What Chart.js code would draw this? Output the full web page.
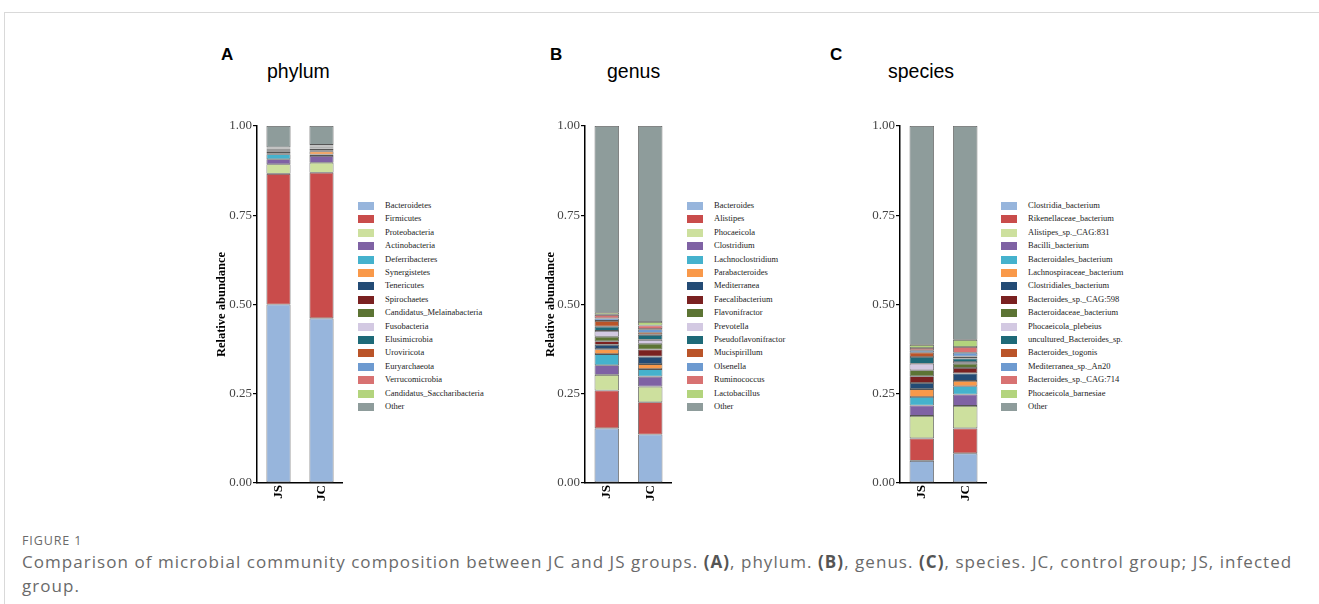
<!DOCTYPE html>
<html>
<head>
<meta charset="utf-8">
<script src="https://cdn.jsdelivr.net/npm/chart.js@4"></script>
<style>
    body { margin: 0; background: #fff; width: 1319px; height: 604px; position: relative; overflow: hidden; }
    .frame { position: absolute; left: 4px; top: 12px; right: 0; bottom: 0; border-top: 1px solid #d9d9d9; border-left: 1px solid #d9d9d9; }
    .letter { position: absolute; font-family: "Liberation Sans", Arial, sans-serif; font-weight: bold; font-size: 17px; color: #000; }
    .rank { position: absolute; font-family: "Liberation Sans", Arial, sans-serif; font-size: 19.5px; color: #000; }
    .box { position: absolute; }
    .legend { position: absolute; font-family: "Liberation Serif", "Times New Roman", serif; font-size: 8.5px; color: #222; }
    .legend div { position: absolute; white-space: nowrap; }
    .legend span { position: absolute; width: 16px; height: 8px; }
    .caption { position: absolute; left: 22px; font-family: "Open Sans", sans-serif; color: #6a6a6a; white-space: nowrap; }
    .caption b { color: #555; }
</style>
</head>
<body>
<div class="frame"></div>

<div class="letter" style="left:221px;top:45px">A</div>
<div class="rank" style="left:267px;top:60px">phylum</div>
<div class="letter" style="left:550px;top:45px">B</div>
<div class="rank" style="left:607px;top:60px">genus</div>
<div class="letter" style="left:830px;top:45px">C</div>
<div class="rank" style="left:888px;top:60px">species</div>

<div class="box" style="left:210px;top:110px;width:133px;height:403px"><canvas id="phylumChart"></canvas></div>
<div class="box" style="left:539px;top:110px;width:133px;height:403px"><canvas id="genusChart"></canvas></div>
<div class="box" style="left:868px;top:110px;width:119px;height:403px"><canvas id="speciesChart"></canvas></div>

<div class="legend" id="phylumLegend" style="left:358px;top:200px"></div>
<div class="legend" id="genusLegend" style="left:687px;top:200px"></div>
<div class="legend" id="speciesLegend" style="left:1001px;top:200px"></div>

<div class="caption" style="top:532px;font-size:12.5px;letter-spacing:0.9px">FIGURE 1</div>
<div class="caption" style="top:550px;font-size:17px;letter-spacing:1.05px">Comparison of microbial community composition between JC and JS groups. <b>(A)</b>, phylum. <b>(B)</b>, genus. <b>(C)</b>, species. JC, control group; JS, infected</div>
<div class="caption" style="top:574px;font-size:17px;letter-spacing:1.05px">group.</div>

<script>
const groups = ['JS', 'JC'];
const yTicks = [0, 0.25, 0.5, 0.75, 1];

const phylumNames = ['Bacteroidetes', 'Firmicutes', 'Proteobacteria', 'Actinobacteria', 'Deferribacteres', 'Synergistetes',
    'Tenericutes', 'Spirochaetes', 'Candidatus_Melainabacteria', 'Fusobacteria', 'Elusimicrobia', 'Uroviricota',
    'Euryarchaeota', 'Verrucomicrobia', 'Candidatus_Saccharibacteria', 'Other'];
const phylumJS = [0.500, 0.366, 0.027, 0.014, 0.014, 0.003, 0.003, 0.002, 0.002, 0.002, 0.002, 0.001, 0.001, 0.002, 0.001, 0.060];
const phylumJC = [0.461, 0.408, 0.028, 0.019, 0.004, 0.009, 0.003, 0.004, 0.002, 0.002, 0.002, 0.001, 0.002, 0.001, 0.001, 0.053];

const genusNames = ['Bacteroides', 'Alistipes', 'Phocaeicola', 'Clostridium', 'Lachnoclostridium', 'Parabacteroides',
    'Mediterranea', 'Faecalibacterium', 'Flavonifractor', 'Prevotella', 'Pseudoflavonifractor', 'Mucispirillum',
    'Olsenella', 'Ruminococcus', 'Lactobacillus', 'Other'];
const genusJS = [0.153, 0.106, 0.044, 0.027, 0.031, 0.014, 0.012, 0.010, 0.013, 0.016, 0.012, 0.016, 0.007, 0.010, 0.006, 0.523];
const genusJC = [0.136, 0.090, 0.044, 0.028, 0.021, 0.014, 0.021, 0.020, 0.016, 0.011, 0.014, 0.006, 0.010, 0.010, 0.010, 0.549];

const speciesNames = ['Clostridia_bacterium', 'Rikenellaceae_bacterium', 'Alistipes_sp._CAG:831', 'Bacilli_bacterium',
    'Bacteroidales_bacterium', 'Lachnospiraceae_bacterium', 'Clostridiales_bacterium', 'Bacteroides_sp._CAG:598',
    'Bacteroidaceae_bacterium', 'Phocaeicola_plebeius', 'uncultured_Bacteroides_sp.', 'Bacteroides_togonis',
    'Mediterranea_sp._An20', 'Bacteroides_sp._CAG:714', 'Phocaeicola_barnesiae', 'Other'];
const speciesJS = [0.062, 0.063, 0.063, 0.029, 0.024, 0.022, 0.017, 0.019, 0.017, 0.018, 0.019, 0.013, 0.006, 0.006, 0.009, 0.613];
const speciesJC = [0.083, 0.070, 0.063, 0.032, 0.023, 0.015, 0.021, 0.015, 0.012, 0.005, 0.010, 0.005, 0.011, 0.016, 0.020, 0.599];

const colors = ['#97b5dc', '#c94c4b', '#cde09e', '#7f62a4', '#45b2cd', '#f9994a', '#234b75', '#7a2121',
    '#5c7434', '#d3c9e2', '#1e6a78', '#ba5429', '#6d9ad0', '#d87272', '#b3d47d', '#8e9c9b'];

function makeDatasets(names, js, jc) {
    let sets = [];
    for (let i = 0; i < names.length; i++) {
        sets.push({
            label: names[i],
            data: [js[i], jc[i]],
            backgroundColor: colors[i],
            borderColor: '#555',
            borderWidth: 0.8,
            borderSkipped: false,
            categoryPercentage: 1,
            barPercentage: 0.56
        });
    }
    return sets;
}

function createChart(id, names, js, jc, showTitle, yWidth) {
    let ctx = document.getElementById(id).getContext('2d');
    return new Chart(ctx, {
        type: 'bar',
        data: {
            labels: groups,
            datasets: makeDatasets(names, js, jc)
        },
        options: {
            responsive: true,
            maintainAspectRatio: false,
            animation: false,
            layout: { padding: { top: 16, right: 0, bottom: 0, left: 0 } },
            plugins: {
                legend: { display: false },
                tooltip: { enabled: false }
            },
            scales: {
                x: {
                    stacked: true,
                    grid: { display: false },
                    border: { color: '#000', width: 1.5 },
                    ticks: {
                        color: '#000',
                        maxRotation: 90,
                        minRotation: 90,
                        padding: -6,
                        font: { family: 'Liberation Serif', size: 13, weight: 'bold' }
                    },
                    afterFit: function (scale) { scale.height = 30; }
                },
                y: {
                    stacked: true,
                    min: 0,
                    max: 1,
                    grid: { drawOnChartArea: false, drawTicks: true, tickLength: 4, color: '#000', lineWidth: 1.2 },
                    border: { color: '#000', width: 1.5 },
                    afterBuildTicks: function (scale) {
                        scale.ticks = yTicks.map(v => ({ value: v }));
                    },
                    ticks: {
                        color: '#444',
                        padding: 1,
                        font: { family: 'Liberation Serif', size: 13 },
                        callback: function (v) { return Number(v).toFixed(2); }
                    },
                    title: {
                        display: showTitle,
                        text: 'Relative abundance',
                        color: '#000',
                        padding: { top: 4, bottom: 4 },
                        font: { family: 'Liberation Serif', size: 12.5, weight: 'bold' }
                    },
                    afterFit: function (scale) { scale.width = yWidth; }
                }
            }
        }
    });
}

function buildLegend(id, names) {
    let el = document.getElementById(id);
    for (let i = 0; i < names.length; i++) {
        let sw = document.createElement('span');
        sw.style.left = '0px';
        sw.style.top = (i * 13.4 + 2) + 'px';
        sw.style.background = colors[i];
        el.appendChild(sw);
        let t = document.createElement('div');
        t.style.left = '27px';
        t.style.top = (i * 13.4) + 'px';
        t.textContent = names[i];
        el.appendChild(t);
    }
}

createChart('phylumChart', phylumNames, phylumJS, phylumJC, true, 47);
createChart('genusChart', genusNames, genusJS, genusJC, true, 46);
createChart('speciesChart', speciesNames, speciesJS, speciesJC, false, 32);

buildLegend('phylumLegend', phylumNames);
buildLegend('genusLegend', genusNames);
buildLegend('speciesLegend', speciesNames);
</script>
</body>
</html>
